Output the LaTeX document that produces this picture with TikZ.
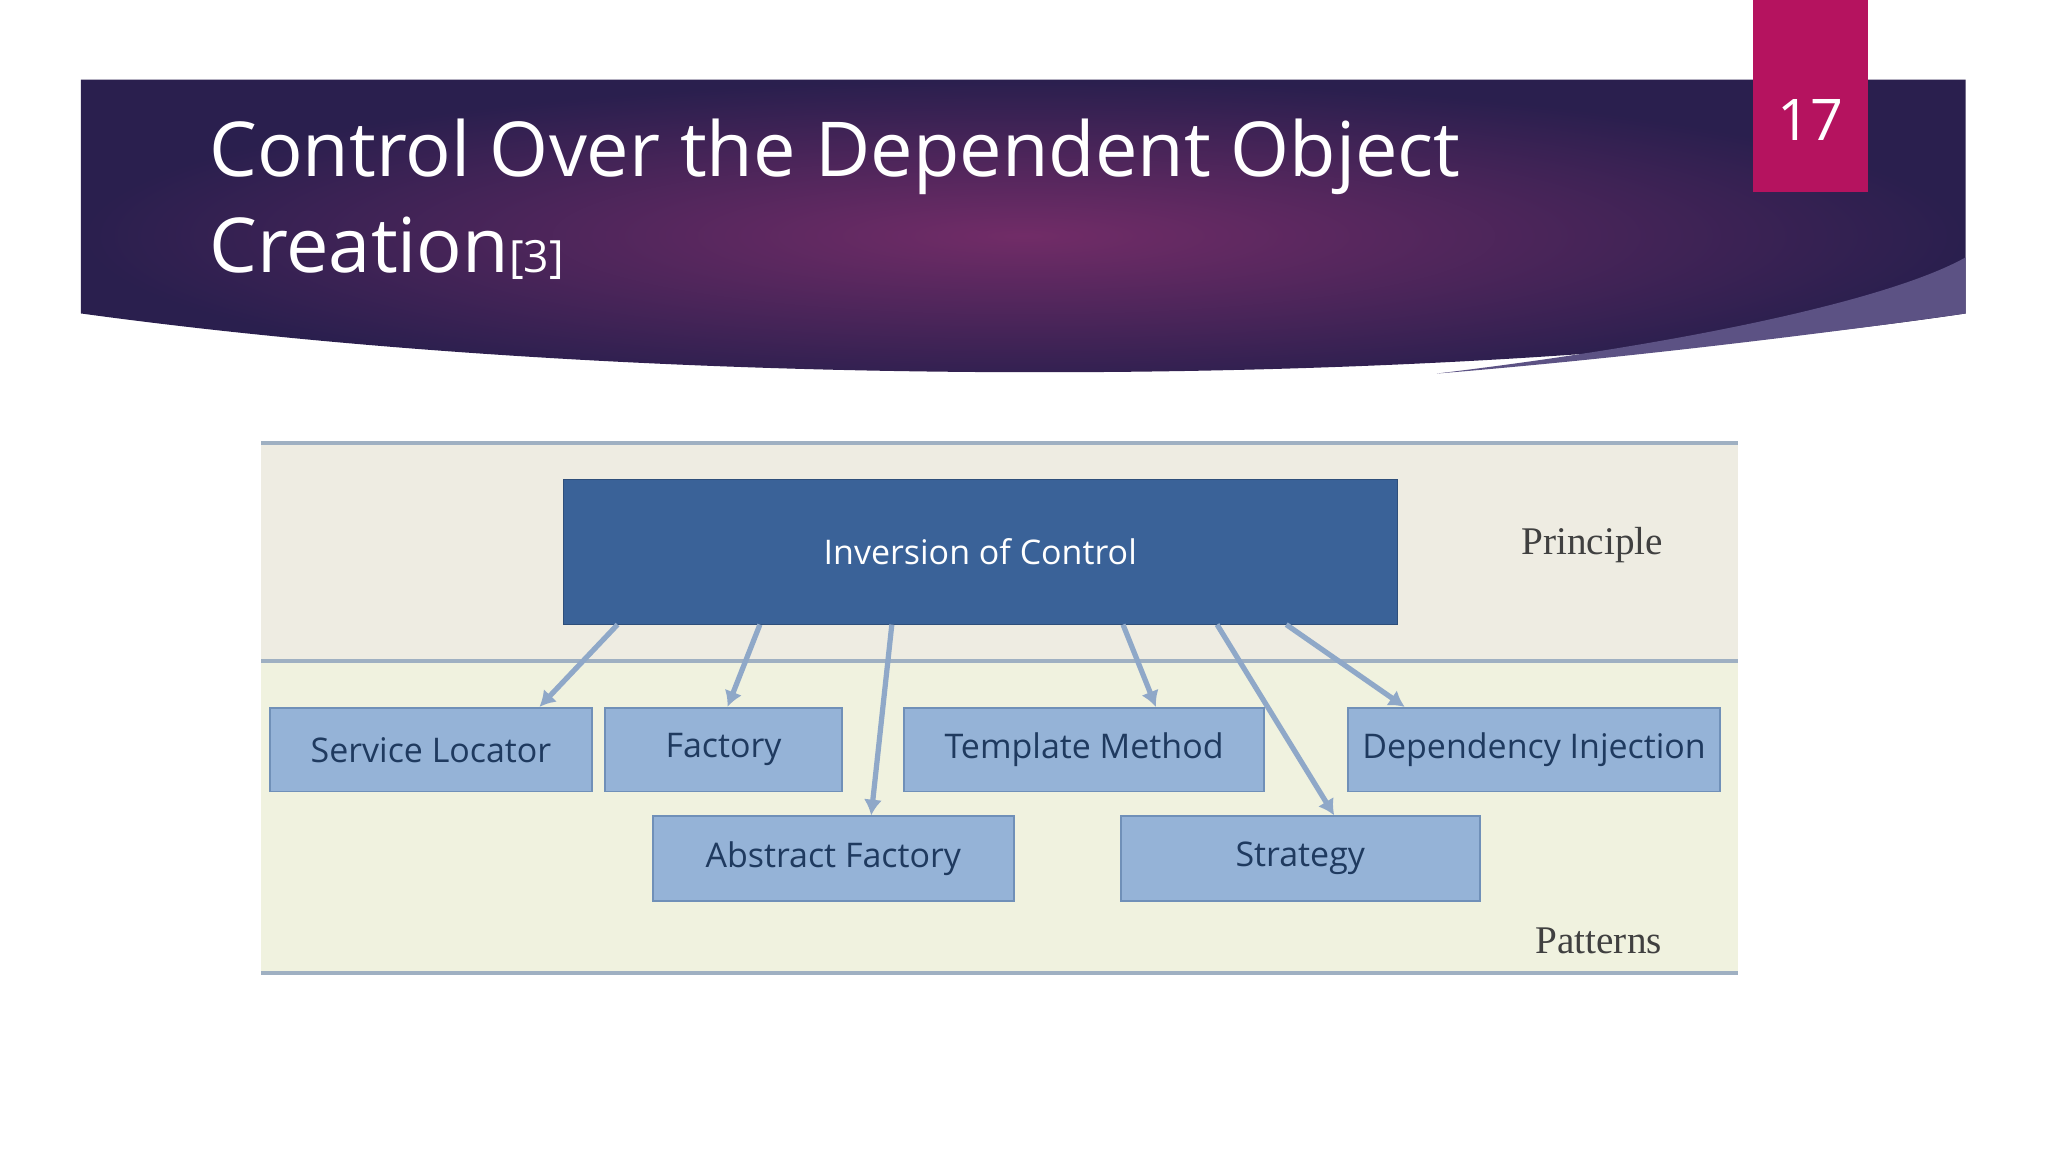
\documentclass[tikz,border=0pt]{standalone}
\usepackage{fontspec}
\setmainfont{Open Sans}
\newfontfamily\serifx{Liberation Serif}
\usetikzlibrary{calc,arrows.meta}
\definecolor{bgA}{HTML}{2A1F4E}
\definecolor{bgB}{HTML}{712C67}
\definecolor{pink}{HTML}{B5135F}
\definecolor{beige}{HTML}{EEECE2}
\definecolor{pale}{HTML}{F0F2DF}
\definecolor{rule}{HTML}{9FB0C2}
\definecolor{ioc}{HTML}{3A6298}
\definecolor{pat}{HTML}{95B3D7}
\definecolor{patb}{HTML}{7090B8}
\definecolor{txt}{HTML}{1F3A5F}
\definecolor{arr}{HTML}{8FA8C8}
\definecolor{streak}{HTML}{5C5284}
\tikzset{
 pat/.style={draw=patb,line width=1.5,fill=pat,text=txt,font=\fontsize{26}{30}\selectfont,inner sep=0},
 con/.style={draw=arr,line width=4,-{Latex[length=12,width=14]}},
 lab/.style={font=\serifx\fontsize{30}{34}\selectfont,text=black!75}
}
\begin{document}
\begin{tikzpicture}[x=1pt,y=-1pt]
\useasboundingbox (0,0) rectangle (1568,882);
\fill[white] (0,0) rectangle (1568,882);
\shade[inner color=bgB,outer color=bgA] (62,61) -- (1505,61) -- (1505,240) .. controls (1100,300) and (500,300) .. (62,240) -- cycle;
\fill[streak] (1505,197) -- (1505,240) .. controls (1350,262) and (1200,278) .. (1100,286) .. controls (1300,262) and (1450,228) .. (1505,197) -- cycle;
\node[fill=pink,minimum width=88,minimum height=147,anchor=north west,inner sep=0] (num) at (1342,0) {};
\node[text=white,font=\fontsize{44}{50}\selectfont] (numt) at (1386,92) {17};
\node[anchor=west,text=white,font=\fontsize{58}{70}\selectfont,inner sep=0] (t1) at (160,120) {Control Over the Dependent Object};
\node[anchor=west,text=white,font=\fontsize{58}{70}\selectfont,inner sep=0] (t2) at (160,190) {Creation{\fontsize{34}{40}\selectfont[3]}};
% diagram
\fill[beige] (200,339) rectangle (1331,506);
\fill[pale] (200,506) rectangle (1331,745);
\draw[rule,line width=3] (200,339) -- (1331,339);
\draw[rule,line width=3] (200,506) -- (1331,506);
\draw[rule,line width=3] (200,745) -- (1331,745);
\node[fill=ioc,draw=ioc!80!black,minimum width=639,minimum height=111,inner sep=0,text=white,font=\fontsize{26}{30}\selectfont] (ioc) at (750.5,422.5) {Inversion of Control};
\node[pat,minimum width=246,minimum height=64] (sl) at (330,574) {Service Locator};
\node[pat,minimum width=182,minimum height=64] (fa) at (554,574) {Factory};
\node[pat,minimum width=276,minimum height=64] (tm) at (830,574) {Template Method};
\node[pat,minimum width=285,minimum height=64] (di) at (1174.5,574) {Dependency Injection};
\node[pat,minimum width=276,minimum height=65] (af) at (638,657.5) {Abstract Factory};
\node[pat,minimum width=275,minimum height=65] (st) at (995.5,657.5) {Strategy};
\node[lab] (pr) at (1219,417) {Principle};
\node[lab] (pa) at (1224,720) {Patterns};
\coordinate (s1) at ([xshift=42]ioc.south west);
\coordinate (s2) at ([xshift=151]ioc.south west);
\coordinate (s3) at ([xshift=252]ioc.south west);
\coordinate (s4) at ([xshift=429]ioc.south west);
\coordinate (s5) at ([xshift=501]ioc.south west);
\coordinate (s6) at ([xshift=554]ioc.south west);
\draw[con] (s1) -- ([xshift=83]sl.north);
\draw[con] (s2) -- ([xshift=3]fa.north);
\draw[con] (s3) -- ([xshift=29]af.north);
\draw[con] (s4) -- ([xshift=55]tm.north);
\draw[con] (s5) -- ([xshift=26]st.north);
\draw[con] (s6) -- ([xshift=-99]di.north);
\end{tikzpicture}
\end{document}
